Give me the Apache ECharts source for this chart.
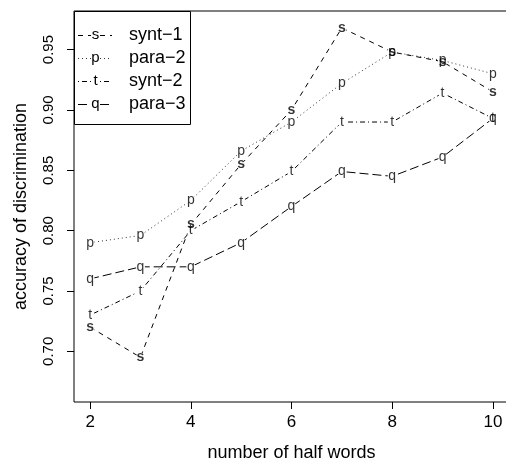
<!DOCTYPE html>
<html>
<head>
<meta charset="utf-8">
<script src="https://cdn.jsdelivr.net/npm/echarts@6/dist/echarts.min.js"></script>
<style>html,body{margin:0;padding:0;background:#fff}#c{width:506px;height:459px}</style>
</head>
<body>
<div id="c"></div>
<script>
const halfWords = [2, 3, 4, 5, 6, 7, 8, 9, 10];
const synt1 = [0.72, 0.695, 0.805, 0.855, 0.90, 0.968, 0.948, 0.94, 0.915];
const para2 = [0.79, 0.796, 0.825, 0.866, 0.89, 0.922, 0.948, 0.941, 0.93];
const synt2 = [0.73, 0.75, 0.80, 0.824, 0.849, 0.89, 0.89, 0.914, 0.893];
const para3 = [0.76, 0.77, 0.77, 0.79, 0.82, 0.849, 0.845, 0.861, 0.893];
const seriesNames = ['synt\u22121', 'para\u22122', 'synt\u22122', 'para\u22123'];
const seriesLetters = ['s', 'p', 't', 'q'];
const xTicks = [2, 4, 6, 8, 10];
const yTicks = [0.70, 0.75, 0.80, 0.85, 0.90, 0.95];

const FONT = 'Liberation Sans, Arial, Helvetica, sans-serif';
const values = [synt1, para2, synt2, para3];
const dashes = [[5, 5], [1, 3], [1, 3, 5, 3], [9, 4]];
const lineColors = ['#000', '#333', '#000', '#000'];
const letterWeights = ['bold', 'normal', 'normal', 'normal'];

const chart = echarts.init(document.getElementById('c'), null, {renderer: 'canvas'});

const series = [];
values.forEach((arr, i) => {
  const data = halfWords.map((x, k) => [x, arr[k]]);
  series.push({
    type: 'line', name: seriesNames[i], data: data, z: 2,
    symbol: 'circle', symbolSize: 9, showSymbol: true,
    itemStyle: {color: '#fff', borderWidth: 0},
    lineStyle: {color: lineColors[i], width: 1, type: dashes[i]},
    emphasis: {disabled: true}, animation: false
  });
});
values.forEach((arr, i) => {
  const data = halfWords.map((x, k) => [x, arr[k]]);
  series.push({
    type: 'scatter', name: seriesNames[i] + '_pch', data: data, z: 5,
    symbol: 'circle', symbolSize: 1,
    itemStyle: {color: 'rgba(0,0,0,0)'},
    label: {show: true, position: 'inside', formatter: seriesLetters[i],
      color: '#000', fontSize: 14, fontFamily: FONT, fontWeight: letterWeights[i],
      align: 'center', verticalAlign: 'middle'},
    emphasis: {disabled: true}, animation: false
  });
});

// legend drawn with graphics (R-style boxed legend)
const legX = 74, legY = 11, legW = 116, legH = 113;
const rowY = [35, 58, 81, 104];
const graphics = [{
  type: 'rect', shape: {x: legX + 0.5, y: legY + 0.5, width: legW, height: legH},
  style: {fill: '#fff', stroke: '#000', lineWidth: 1}, z: 10
}];
seriesNames.forEach((nm, i) => {
  const y = rowY[i] + 0.5;
  graphics.push({type: 'line', shape: {x1: 78, y1: y, x2: 91, y2: y},
    style: {stroke: lineColors[i], lineWidth: 1, lineDash: dashes[i]}, z: 11});
  graphics.push({type: 'line', shape: {x1: 100, y1: y, x2: 112, y2: y},
    style: {stroke: lineColors[i], lineWidth: 1, lineDash: dashes[i]}, z: 11});
  graphics.push({type: 'text', x: 95.5, y: rowY[i],
    style: {text: seriesLetters[i], fill: '#000', font: '15px ' + FONT,
      textAlign: 'center', textVerticalAlign: 'middle'}, z: 12});
  graphics.push({type: 'text', x: 129, y: rowY[i],
    style: {text: nm, fill: '#000', font: '18px ' + FONT,
      textAlign: 'left', textVerticalAlign: 'middle'}, z: 12});
});

chart.setOption({
  backgroundColor: '#fff',
  animation: false,
  grid: {left: 74, top: 11, width: 435, height: 391, show: true,
    outerBoundsMode: 'none', containLabel: false,
    borderColor: '#000', borderWidth: 1, backgroundColor: 'transparent'},
  xAxis: {
    type: 'value', min: 1.68, max: 10.32,
    name: 'number of half words', nameLocation: 'middle', nameGap: 42,
    nameTextStyle: {fontSize: 18, fontFamily: FONT, color: '#000'},
    axisLine: {show: false},
    axisTick: {show: true, length: 7, inside: false, customValues: xTicks,
      lineStyle: {color: '#000', width: 1}},
    axisLabel: {show: true, customValues: xTicks, margin: 12, fontSize: 17,
      fontFamily: FONT, color: '#000', formatter: v => String(v)},
    splitLine: {show: false}
  },
  yAxis: {
    type: 'value', min: 0.658, max: 0.982,
    name: 'accuracy of discrimination', nameLocation: 'middle', nameGap: 44,
    nameRotate: 90,
    nameTextStyle: {fontSize: 18, fontFamily: FONT, color: '#000'},
    axisLine: {show: false},
    axisTick: {show: true, length: 7, inside: false, customValues: yTicks,
      lineStyle: {color: '#000', width: 1}},
    axisLabel: {show: true, customValues: yTicks, margin: 18, rotate: 90,
      fontSize: 15, fontFamily: FONT, color: '#000',
      formatter: v => v.toFixed(2)},
    splitLine: {show: false}
  },
  graphic: graphics,
  series: series
});
</script>
</body>
</html>
